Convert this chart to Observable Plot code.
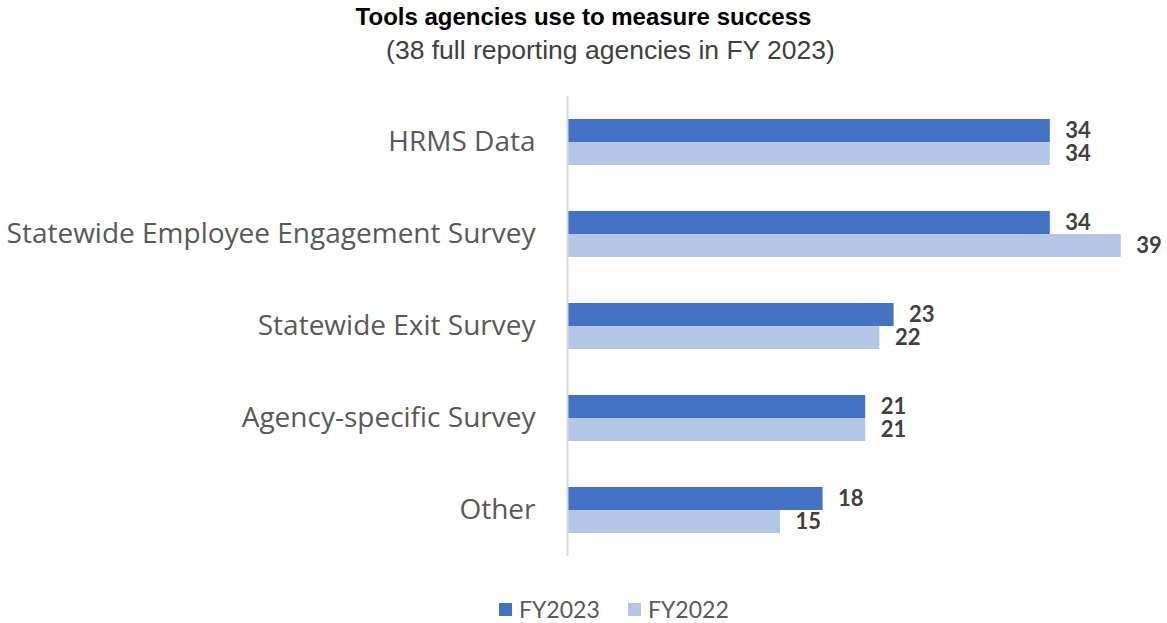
<!DOCTYPE html>
<html><head><meta charset="utf-8">
<script src="https://cdn.jsdelivr.net/npm/d3@7"></script>
<script src="https://cdn.jsdelivr.net/npm/@observablehq/plot@0.6"></script>
<style>
body{margin:0;background:#fff;}
#wrap{position:relative;width:1167px;height:623px;overflow:hidden;}
#chart{position:absolute;left:0;top:0;}
#title{position:absolute;top:3px;left:0;width:1167px;text-align:center;font:bold 24px "Liberation Sans",Arial,sans-serif;color:#000;line-height:28px;}
#subtitle{position:absolute;top:34px;left:27px;width:1167px;text-align:center;font:26.5px "Liberation Sans",Arial,sans-serif;color:#404040;line-height:32px;}
#legend{position:absolute;top:595px;left:0;width:1167px;height:28px;font:23px Lato,"Noto Sans",sans-serif;color:#595959;line-height:28px;}
.item{position:absolute;top:0;display:flex;align-items:center;gap:7px;}
.sw{width:13px;height:13px;display:inline-block;}
</style></head>
<body>
<div id="wrap">
<div id="chart"></div>
<div id="title">Tools agencies use to measure success</div>
<div id="subtitle">(38 full reporting agencies in FY 2023)</div>
<div id="legend"></div>
</div>
<script>
const categories = ["HRMS Data","Statewide Employee Engagement Survey","Statewide Exit Survey","Agency-specific Survey","Other"];
const fy2023 = [34,34,23,21,18];
const fy2022 = [34,39,22,21,15];
const seriesNames = ["FY2023","FY2022"];
const seriesColors = ["#4472C4","#B4C7E7"];

const data = categories.flatMap((c,i)=>[
  {category:c, series:seriesNames[0], value:fy2023[i]},
  {category:c, series:seriesNames[1], value:fy2022[i]}
]);

const chart = Plot.plot({
  width:1167, height:623,
  marginTop:96, marginBottom:67, marginLeft:567, marginRight:32,
  style:{fontFamily:'Lato, "Noto Sans", sans-serif', background:"transparent"},
  x:{domain:[0,40], axis:null},
  fy:{domain:categories, padding:0, axis:null, label:null},
  y:{domain:seriesNames, paddingInner:0, paddingOuter:0.917, axis:null},
  color:{domain:seriesNames, range:seriesColors},
  marks:[
    Plot.barX(data,{fy:"category", y:"series", x:"value", fill:"series"}),
    Plot.text(data,{fy:"category", y:"series", x:"value", text:d=>String(d.value), textAnchor:"start", dx:15, fontSize:22, fontWeight:"bold", fill:"#404040"}),
    Plot.ruleX([0],{stroke:"#d9d9d9", strokeWidth:2}),
    Plot.axisFy({anchor:"left", tickSize:0, tickPadding:32, fontSize:28, fontFamily:'"Open Sans", sans-serif', fill:"#595959", label:null})
  ]
});
document.getElementById("chart").appendChild(chart);

const legend = document.getElementById("legend");
const legendLeft = [499, 628];
seriesNames.forEach((s,i)=>{
  const it = document.createElement("div"); it.className="item"; it.style.left = legendLeft[i] + "px";
  const sw = document.createElement("span"); sw.className="sw"; sw.style.background=seriesColors[i];
  const tx = document.createElement("span"); tx.textContent=s;
  it.appendChild(sw); it.appendChild(tx); legend.appendChild(it);
});
</script>
</body></html>
